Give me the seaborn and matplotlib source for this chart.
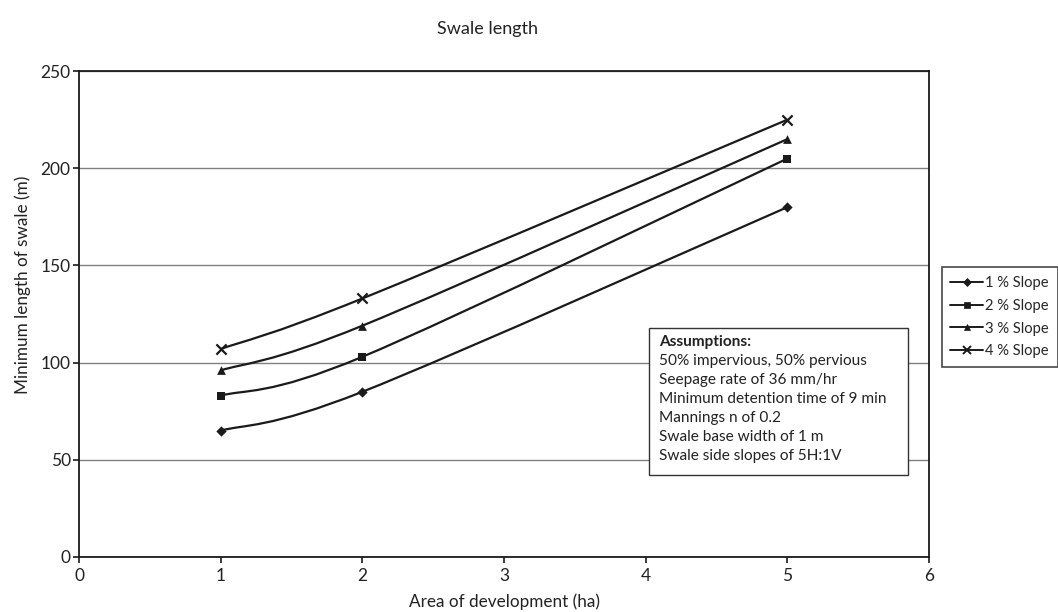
import numpy as np
import pandas as pd
import matplotlib.pyplot as plt
import seaborn as sns
from matplotlib.path import Path
from matplotlib.patches import PathPatch
from matplotlib.lines import Line2D

# data
area = [1, 2, 5]
slope_1 = [65, 85, 180]
slope_2 = [83, 103, 205]
slope_3 = [96, 119, 215]
slope_4 = [107, 133, 225]
series_names = ["1 % Slope", "2 % Slope", "3 % Slope", "4 % Slope"]
markers = ["D", "s", "^", "x"]
marker_sizes = [5, 6, 6, 7]

df = pd.DataFrame({
    "Area": area * 4,
    "Length": slope_1 + slope_2 + slope_3 + slope_4,
    "Series": np.repeat(series_names, len(area)),
})

sns.set_style("white")
plt.rcParams["font.family"] = ["Lato", "DejaVu Sans"]
TXT = "#222222"

fig = plt.figure(figsize=(10.58, 6.12), dpi=100)
ax = fig.add_axes([0.0747, 0.0899, 0.8035, 0.794])


def smooth_path(xs, ys):
    # Excel-style smoothed line: cubic bezier through the points
    pts = np.column_stack([xs, ys]).astype(float)
    n = len(pts)
    verts = [pts[0]]
    codes = [Path.MOVETO]
    for i in range(n - 1):
        p0 = pts[i - 1] if i > 0 else pts[i]
        p1, p2 = pts[i], pts[i + 1]
        p3 = pts[i + 2] if i + 2 < n else pts[i + 1]
        c1 = p1 + (p2 - p0) / 6
        c2 = p2 - (p3 - p1) / 6
        verts += [c1, c2, p2]
        codes += [Path.CURVE4] * 3
    return Path(verts, codes)


for name, mk, ms in zip(series_names, markers, marker_sizes):
    sub = df[df["Series"] == name]
    ax.add_patch(PathPatch(smooth_path(sub["Area"], sub["Length"]),
                           fill=False, edgecolor="#1a1a1a", lw=1.6, zorder=3))
    sns.scatterplot(data=sub, x="Area", y="Length", marker=mk, s=ms ** 2 * 1.1,
                    color="#1a1a1a", edgecolor="#1a1a1a",
                    linewidth=1.6 if mk == "x" else 0, ax=ax, zorder=4, legend=False)

ax.set_xlim(0, 6)
ax.set_ylim(0, 250)
ax.set_xticks(range(0, 7))
ax.set_yticks(range(0, 251, 50))
ax.yaxis.grid(True, color="#808080", lw=1)
ax.set_axisbelow(True)
for s in ax.spines.values():
    s.set_color("#1a1a1a")
    s.set_linewidth(1.3)
ax.tick_params(axis="both", direction="out", length=4, width=1.2, color="#1a1a1a",
               labelsize=12.5, labelcolor=TXT, bottom=True, left=True, pad=2)
ax.tick_params(axis="x", pad=4)
ax.set_xlabel("Area of development (ha)", fontsize=12.3, color=TXT, labelpad=7)
ax.set_ylabel("Minimum length of swale (m)", fontsize=12.3, color=TXT)
ax.yaxis.set_label_coords(-0.057, 0.561)
fig.text(0.461, 0.945, "Swale length", ha="center", fontsize=13,
         color=TXT)

handles = [Line2D([0], [0], color="#1a1a1a", lw=1.4, marker=mk,
                  markersize=ms - 1, markeredgewidth=1.4 if mk == "x" else 0.5)
           for mk, ms in zip(markers, marker_sizes)]
leg = fig.legend(handles, series_names, loc="upper left",
                 bbox_to_anchor=(0.890, 0.5637), frameon=True, fancybox=False,
                 fontsize=10.6, handlelength=2.2, handletextpad=0.15,
                 borderpad=0.6, labelspacing=0.6, borderaxespad=0)
leg.get_frame().set_edgecolor("#1a1a1a")
leg.get_frame().set_linewidth(1.2)

note_lines = ["50% impervious, 50% pervious", "Seepage rate of 36 mm/hr",
              "Minimum detention time of 9 min", "Mannings n of 0.2",
              "Swale base width of 1 m", "Swale side slopes of 5H:1V"]
box = plt.Rectangle((649 / 1058, 1 - 475 / 612), 259 / 1058, 147 / 612,
                    transform=fig.transFigure, facecolor="white",
                    edgecolor="#333333", lw=1, zorder=5)
fig.add_artist(box)
fig.text(659 / 1058, 1 - 342 / 612, "Assumptions:", fontsize=11.1,
         fontweight="bold", color=TXT, va="center", zorder=6)
for i, line in enumerate(note_lines):
    fig.text(659 / 1058, 1 - (361 + i * 19) / 612, line, fontsize=11.1,
             color=TXT, va="center", zorder=6)

fig.savefig("out.png", dpi=100)
